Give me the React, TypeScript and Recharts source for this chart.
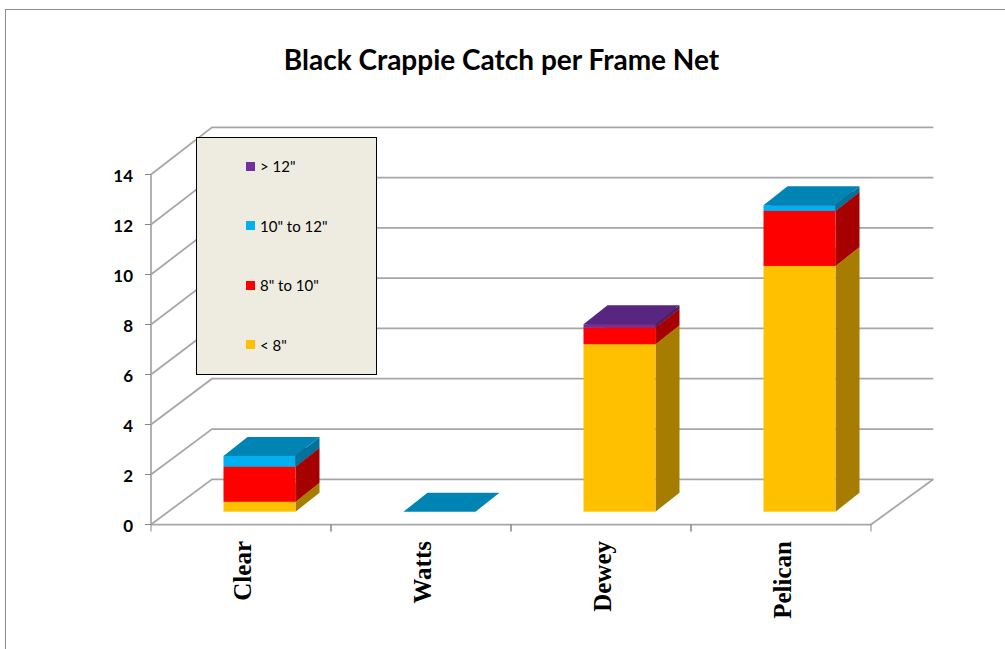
import React from "react";
import { BarChart, Bar, XAxis, YAxis, CartesianGrid, Legend } from "recharts";

const lakes = ["Clear", "Watts", "Dewey", "Pelican"];
const under8 = [0.4, null, 6.7, 9.83];
const from8to10 = [1.4, null, 0.67, 2.2];
const from10to12 = [0.43, 0, null, 0.23];
const over12 = [null, null, 0.13, null];
const yTicks = [0, 2, 4, 6, 8, 10, 12, 14];

const chartData = lakes.map((lake, i) => ({
  lake,
  under8: under8[i],
  from8to10: from8to10[i],
  from10to12: from10to12[i],
  over12: over12[i],
}));

// stacking order, bottom of the column first
const series = [
  { key: "under8", name: '< 8"', front: "#FFC000", side: "#A67D00", top: "#BF9000" },
  { key: "from8to10", name: '8" to 10"', front: "#FF0000", side: "#A60000", top: "#BF0000" },
  { key: "from10to12", name: '10" to 12"', front: "#00B0F0", side: "#00729C", top: "#0084B4" },
  { key: "over12", name: '> 12"', front: "#7030A0", side: "#49206A", top: "#582680" },
];

const GRID = "#A6A6A6";
const TICK = "#868686";

// how far the plot box runs back into the page
const WALL_DX_LEFT = 61;
const WALL_DX_RIGHT = 62.3;
const WALL_DY = -45.2;
// the back wall is drawn very slightly taller than the front of the box
const WALL_STRETCH = 1.0057;
// where a column sits on the floor, and its own depth
const BAR_DX = 18.5;
const BAR_DY = -12.8;
const BAR_DEPTH_X = 24;
const BAR_DEPTH_Y = -19;

const PLOT_BOTTOM = 524.5;
const TICK_LENGTH = 7;
const BAND_WIDTH = 180;

const makeBarShape = (s: any) => (props: any) => {
  if (props.payload[s.key] === null) return null;
  const x = props.x + BAR_DX;
  const w = props.width;
  const h = props.height;
  const y = props.y + BAR_DY;
  const dx = BAR_DEPTH_X;
  const dy = BAR_DEPTH_Y;
  return (
    <g>
      <path
        d={`M${x + w},${y} L${x + w + dx},${y + dy} L${x + w + dx},${y + dy + h} L${x + w},${y + h} Z`}
        fill={s.side}
      />
      <rect x={x} y={y} width={w} height={h} fill={s.front} />
      <path
        d={`M${x},${y} L${x + w},${y} L${x + w + dx},${y + dy} L${x + dx},${y + dy} Z`}
        fill={s.top}
      />
    </g>
  );
};

// each value line runs up the side wall and then along the back wall
const WallLine = (props: any) => {
  const { x1, x2, y1 } = props;
  const isFloor = Math.abs(y1 - PLOT_BOTTOM) < 1;
  const backY = PLOT_BOTTOM + WALL_DY - (PLOT_BOTTOM - y1) * WALL_STRETCH;
  return (
    <g fill="none" stroke={GRID} strokeWidth={1.75}>
      <path d={`M${x1},${y1} L${x1 + WALL_DX_LEFT},${backY} L${x2 + WALL_DX_RIGHT},${backY}`} />
      {isFloor && <path d={`M${x2},${y1} L${x2 + WALL_DX_RIGHT},${backY}`} />}
    </g>
  );
};

// tick marks fall between the lakes, so they are drawn at the band edges here
const LakeTick = ({ x, payload }: any) => (
  <g>
    <path
      d={`M${x - BAND_WIDTH / 2},${PLOT_BOTTOM} v${TICK_LENGTH} M${x + BAND_WIDTH / 2},${PLOT_BOTTOM} v${TICK_LENGTH}`}
      stroke={TICK}
      fill="none"
    />
    <text
      transform={`translate(${x + 10},541) rotate(-90)`}
      textAnchor="end"
      fontFamily="'Liberation Serif', serif"
      fontWeight="bold"
      fontSize={25}
      fill="#000"
    >
      {payload.value}
    </text>
  </g>
);

const ValueTick = ({ x, y, payload }: any) => (
  <text
    x={x}
    y={y + 7}
    textAnchor="end"
    fontFamily="Lato, sans-serif"
    fontWeight="bold"
    fontSize={17}
    fill="#000"
  >
    {payload.value}
  </text>
);

const LegendBox = ({ payload }: any) => (
  <div style={{ position: "relative", height: "100%" }}>
    {[...(payload || [])].reverse().map((item: any, i: number) => (
      <div
        key={item.value}
        style={{
          position: "absolute",
          left: 49,
          top: 28 + i * 59.5 - 9,
          height: 18,
          display: "flex",
          alignItems: "center",
          fontFamily: "Lato, sans-serif",
          fontSize: 15,
          color: "#000",
          whiteSpace: "nowrap",
        }}
      >
        <span style={{ width: 9, height: 9, background: item.color, marginRight: 5 }} />
        {item.value}
      </div>
    ))}
  </div>
);

export default function App() {
  return (
    <div
      style={{
        position: "fixed",
        left: 0,
        top: 0,
        width: 1005,
        height: 649,
        overflow: "hidden",
        background: "#fff",
      }}
    >
      {/* chart area frame, runs off the right and bottom edges */}
      <div
        style={{
          position: "absolute",
          left: 5,
          top: 9,
          width: 1100,
          height: 800,
          border: "1px solid #8C8C8C",
        }}
      />
      <div
        style={{
          position: "absolute",
          left: 0,
          top: 42,
          width: 1003,
          textAlign: "center",
          fontFamily: "Lato, sans-serif",
          fontWeight: "bold",
          fontSize: 28,
          color: "#000",
        }}
      >
        Black Crappie Catch per Frame Net
      </div>
      <BarChart
        width={1005}
        height={649}
        data={chartData}
        margin={{ top: 174.5, right: 134, bottom: 0, left: 0 }}
        barCategoryGap="30%"
        style={{ position: "absolute", left: 0, top: 0 }}
      >
        <CartesianGrid horizontal={(p: any) => <WallLine key={p.y1} {...p} />} vertical={false} />
        <XAxis
          dataKey="lake"
          interval={0}
          height={124.5}
          tick={<LakeTick />}
          tickLine={false}
          axisLine={{ stroke: GRID, strokeWidth: 1.75 }}
        />
        <YAxis
          domain={[0, 14]}
          ticks={yTicks}
          width={151}
          tick={<ValueTick />}
          tickSize={6}
          tickMargin={12}
          axisLine={{ stroke: GRID, strokeWidth: 1.75 }}
          tickLine={{ stroke: TICK }}
        />
        <Legend
          layout="vertical"
          align="center"
          verticalAlign="middle"
          itemSorter={null}
          content={<LegendBox />}
          wrapperStyle={{
            left: 196,
            top: 137,
            width: 181,
            height: 238,
            margin: 0,
            boxSizing: "border-box",
            background: "#EEECE1",
            border: "1px solid #000",
          }}
        />
        {series.map((s) => (
          <Bar
            key={s.key}
            dataKey={s.key}
            name={s.name}
            stackId="catch"
            fill={s.front}
            shape={makeBarShape(s)}
            isAnimationActive={false}
          />
        ))}
      </BarChart>
    </div>
  );
}
